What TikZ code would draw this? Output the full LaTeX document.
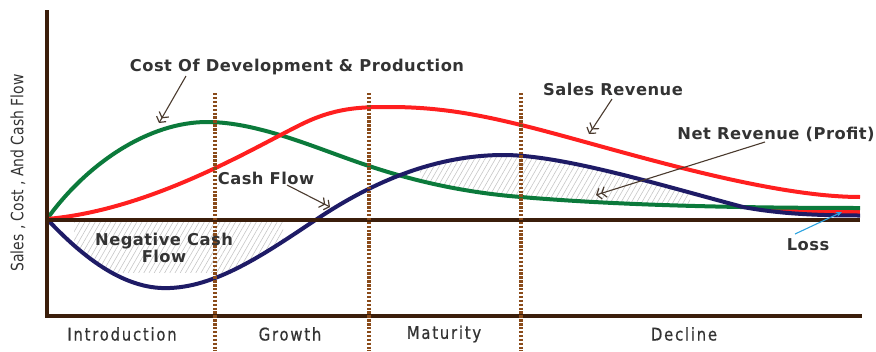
\documentclass[tikz,border=0pt]{standalone}
\usepackage{fontspec}
\setmainfont{DejaVu Sans}
\newfontfamily\lblfont[LetterSpace=3]{DejaVu Sans}
\newfontfamily\condfont[FakeStretch=0.82]{DejaVu Sans}
\newfontfamily\phasefont[FakeStretch=0.85,LetterSpace=10,FakeBold=0.6]{DejaVu Sans}
\usetikzlibrary{arrows.meta,patterns.meta}
\definecolor{axisbrown}{HTML}{3B1E0B}
\definecolor{dotbrown}{HTML}{8A4B1A}
\definecolor{cgreen}{HTML}{0B7A3B}
\definecolor{cred}{HTML}{FF1F1F}
\definecolor{cnavy}{HTML}{1E1B66}
\definecolor{txtgray}{HTML}{333333}
\definecolor{arrbrown}{HTML}{4A3A2E}
\definecolor{lossblue}{HTML}{2BA3E0}
\def\greencurve{(47,219) .. controls (88,162) and (150,122) .. (207,122) .. controls (260,122) and (320,150) .. (369,166) .. controls (420,183) and (470,193) .. (521,197) .. controls (580,202) and (680,208) .. (860,208)}
\def\redcurve{(47,219) .. controls (150,210) and (250,150) .. (300,125) .. controls (335,107.5) and (360,107) .. (390,107) .. controls (440,107) and (480,115) .. (521,125) .. controls (600,144) and (760,197) .. (860,197)}
\def\bluecurve{(47,219) .. controls (90,265) and (130,290) .. (170,288) .. controls (220,286) and (270,250) .. (317,219) .. controls (380,177) and (440,156) .. (500,155) .. controls (560,154) and (660,185) .. (743,207) .. controls (780,214) and (820,215.5) .. (860,215.5)}
\tikzset{
  curve/.style={line width=4pt},
  axisline/.style={line width=4pt, draw=axisbrown},
  phaseline/.style={line width=4pt, draw=dotbrown, dash pattern=on 2.4pt off 1.5pt},
  lbl/.style={text=txtgray, font=\lblfont\bfseries\fontsize{16.3}{18}\selectfont, inner sep=0pt},
  phase/.style={text=txtgray, font=\phasefont\fontsize{17.5}{19}\selectfont, inner sep=0pt},
  pointer/.style={draw=arrbrown, line width=1.1pt, -{Straight Barb[length=4pt,width=11pt,line width=1.2pt]Straight Barb[length=4pt,width=11pt,line width=1.2pt]}},
  hatch/.style={pattern={Lines[angle=60,distance=4.5pt,line width=0.6pt]}, pattern color=gray!45}
}
\begin{document}
\begin{tikzpicture}[x=1pt,y=-1pt]
\useasboundingbox (0,0) rectangle (876,351);
% hatching: negative cash flow
\begin{scope}
  \clip \bluecurve -- (860,0) -- (47,0) -- cycle;
  \fill[hatch] (74,221) rectangle (283,272);
\end{scope}
% hatching: net revenue
\begin{scope}
  \clip \bluecurve -- (860,351) -- (47,351) -- cycle;
  \clip \greencurve -- (860,0) -- (47,0) -- cycle;
  \fill[hatch] (420,150) rectangle (690,210);
\end{scope}
% loss
\begin{scope}
  \clip \bluecurve -- (860,0) -- (47,0) -- cycle;
  \clip \greencurve -- (860,351) -- (47,351) -- cycle;
  \fill[cred] (760,200) rectangle (860,222);
\end{scope}
% curves
\draw[curve, cgreen] \greencurve;
\draw[curve, cred] \redcurve;
\draw[curve, cnavy] \bluecurve;
% axes
\coordinate (o) at (47,219);
\coordinate (zend) at (860,219.5);
\coordinate (zst) at (45,219.5);
\coordinate (ytop) at (47,10);
\coordinate (ybot) at (47,316);
\coordinate (xst) at (45,316);
\coordinate (xend) at (862,316);
\draw[axisline] (zst) -- (zend);
\draw[axisline] (ytop) -- (ybot);
\draw[axisline] (xst) -- (xend);
% phase lines
\foreach \px/\nm in {215/a,369/b,521/c}{
  \coordinate (pt\nm) at (\px,93);
  \coordinate (pb\nm) at (\px,351);
  \draw[phaseline] (pt\nm) -- (pb\nm);
}
% labels
\node[lbl] (cost) at (297,67) {Cost Of Development \& Production};
\node[lbl] (sales) at (613,89) {Sales Revenue};
\node[lbl] (net) at (776,134) {Net Revenue (Profit)};
\node[lbl] (cash) at (266,178) {Cash Flow};
\node[lbl, align=center] (neg) at (164,248) {Negative Cash\\[-1pt]Flow};
\node[lbl] (loss) at (808,245) {Loss};
% pointers
\coordinate (costtip) at (159,123);
\coordinate (costst) at (186,76);
\coordinate (salestip) at (589,134);
\coordinate (salesst) at (612,99);
\coordinate (nettip) at (596,195);
\coordinate (netst) at (765,142);
\coordinate (cashtip) at (330,207);
\coordinate (cashst) at (287,185);
\coordinate (losstip) at (842,212);
\coordinate (lossst) at (795,234);
\draw[pointer] (costst) -- (costtip);
\draw[pointer] (salesst) -- (salestip);
\draw[pointer] (netst) -- (nettip);
\draw[pointer] (cashst) -- (cashtip);
\draw[draw=lossblue, line width=1.1pt, -{Stealth[length=6pt,width=5pt]}] (lossst) -- (losstip);
% phase names
\node[phase] (intro) at (122,334) {Introduction};
\node[phase] (growth) at (290,334) {Growth};
\node[phase] (mat) at (444,334) {Maturity};
\node[phase] (dec) at (684,334) {Decline};
% y label
\node[text=txtgray, font=\condfont\fontsize{17}{19}\selectfont, rotate=90, inner sep=0pt] (ylab) at (18,173) {Sales , Cost , And Cash Flow};
\end{tikzpicture}
\end{document}
